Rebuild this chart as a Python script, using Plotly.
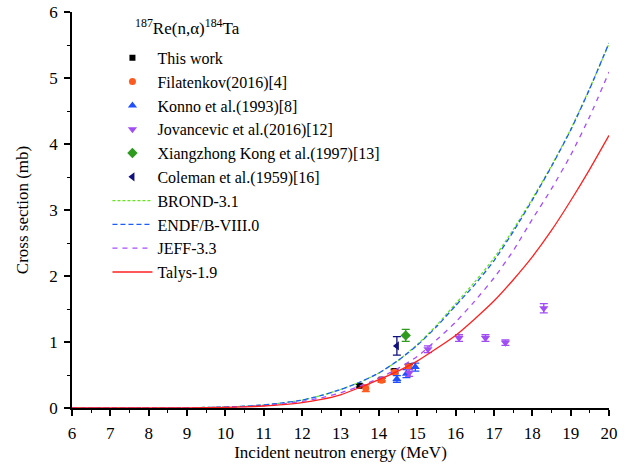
import plotly.graph_objects as go

# ---- experimental data ----
this_E = [13.5, 14.07, 14.41, 14.78]
this_s = [0.337, 0.43, 0.56, 0.63]
this_err = [0.02, 0.02, 0.03, 0.03]

fil_E = [13.66, 14.07, 14.41, 14.78]
fil_s = [0.30, 0.42, 0.54, 0.62]
fil_err = [0.05, 0.03, 0.03, 0.03]

kon_E = [14.47, 14.72, 14.95]
kon_s = [0.44, 0.52, 0.62]
kon_err = [0.05, 0.06, 0.06]

jov_E = [14.79, 15.28, 16.09, 16.78, 17.3, 18.3]
jov_s = [0.53, 0.89, 1.06, 1.06, 0.99, 1.51]
jov_err = [0.05, 0.05, 0.05, 0.05, 0.04, 0.07]

kong_E = [14.7]
kong_s = [1.10]
kong_err = [0.09]

col_E = [14.47]
col_s = [0.94]
col_err = [0.14]

# ---- evaluated data ----
E_eval = [6, 7, 8, 9, 10, 10.5, 11, 11.5, 12, 12.5, 13, 13.5, 14, 14.5, 15,
          15.5, 16, 16.5, 17, 17.5, 18, 18.5, 19, 19.5, 20]
brond = [0, 0.0001, 0.0008, 0.004, 0.015, 0.027, 0.047, 0.078, 0.12, 0.19, 0.28,
         0.39, 0.53, 0.72, 0.96, 1.25, 1.58, 1.91, 2.27, 2.70, 3.17, 3.67, 4.22, 4.85, 5.52]
endf = [0, 0.0001, 0.0008, 0.004, 0.015, 0.027, 0.047, 0.078, 0.12, 0.19, 0.28,
        0.39, 0.53, 0.72, 0.95, 1.23, 1.55, 1.87, 2.23, 2.67, 3.15, 3.66, 4.21, 4.84, 5.53]
jeff = [0, 0.0001, 0.0006, 0.003, 0.011, 0.021, 0.037, 0.062, 0.10, 0.155, 0.23,
        0.33, 0.45, 0.60, 0.78, 1.03, 1.30, 1.62, 1.97, 2.38, 2.86, 3.32, 3.83, 4.42, 5.09]
talys = [0, 0.0001, 0.0005, 0.0025, 0.009, 0.017, 0.03, 0.05, 0.08, 0.13, 0.20,
         0.31, 0.43, 0.56, 0.71, 0.90, 1.10, 1.35, 1.62, 1.94, 2.29, 2.69, 3.14, 3.62, 4.13]

FONT = "Liberation Serif"

fig = go.Figure()

def pts(name, x, y, err, color, symbol, size):
    fig.add_trace(go.Scatter(
        x=x, y=y, mode="markers", name=name,
        marker=dict(color=color, symbol=symbol, size=size, line=dict(width=0)),
        error_y=dict(type="data", array=err, color=color, thickness=1.3, width=4),
    ))

pts("This work", this_E, this_s, this_err, "#000000", "square", 6)
pts("Filatenkov(2016)[4]", fil_E, fil_s, fil_err, "#FF5A1F", "circle", 7)
pts("Konno et al.(1993)[8]", kon_E, kon_s, kon_err, "#1F4FFF", "triangle-up", 8)
pts("Jovancevic et al.(2016)[12]", jov_E, jov_s, jov_err, "#A04DF5", "triangle-down", 8)
pts("Xiangzhong Kong et al.(1997)[13]", kong_E, kong_s, kong_err, "#2E9A1E", "diamond", 8)
pts("Coleman et al.(1959)[16]", col_E, col_s, col_err, "#10107F", "triangle-left", 8)

def curve(name, y, color, dash):
    fig.add_trace(go.Scatter(
        x=E_eval, y=y, mode="lines", name=name,
        line=dict(color=color, width=1.3, dash=dash, shape="spline", smoothing=0.6),
    ))

curve("BROND-3.1", brond, "#66E61E", "3px,2px")
curve("ENDF/B-VIII.0", endf, "#1A5CFF", "5px,3px")
curve("JEFF-3.3", jeff, "#A64DFF", "5px,5px")
curve("Talys-1.9", talys, "#FF2020", "solid")

fig.add_annotation(
    x=0.1136, y=0.962, xref="paper", yref="paper", xanchor="left", yanchor="middle",
    text="<sup>187</sup>Re(n,α)<sup>184</sup>Ta", showarrow=False,
    font=dict(family=FONT, size=17, color="#000"),
)

axis_common = dict(
    showline=True, linecolor="#000", linewidth=1.5, mirror=False,
    ticks="outside", ticklen=6, tickwidth=1.5, tickcolor="#000",
    showgrid=False, zeroline=False, automargin=False,
    tickfont=dict(family=FONT, size=17, color="#000"),
    minor=dict(ticks="outside", ticklen=3.5, tickwidth=1.2, tickcolor="#000", showgrid=False),
)

fig.update_xaxes(range=[6, 20], dtick=1, tick0=6, ticklabelstandoff=3,
                 title=dict(text="Incident neutron energy (MeV)",
                            font=dict(family=FONT, size=17, color="#000"), standoff=1),
                 **axis_common)
fig.update_xaxes(minor=dict(dtick=0.5))
fig.update_yaxes(range=[0, 6], dtick=1, tick0=0, ticklabelstandoff=3,
                 title=dict(text="Cross section (mb)",
                            font=dict(family=FONT, size=17, color="#000"), standoff=16),
                 **axis_common)
fig.update_yaxes(minor=dict(dtick=0.5))

fig.update_layout(
    width=632, height=466,
    margin=dict(l=72, r=23, t=12, b=58, autoexpand=False),
    plot_bgcolor="#FFFFFF", paper_bgcolor="#FFFFFF",
    font=dict(family=FONT, size=16, color="#000"),
    legend=dict(
        x=0.066, y=0.927, xanchor="left", yanchor="top",
        bgcolor="rgba(0,0,0,0)", borderwidth=0,
        font=dict(family=FONT, size=16, color="#000"),
        itemwidth=40, tracegroupgap=0,
    ),
)

fig.write_html("out.html")
